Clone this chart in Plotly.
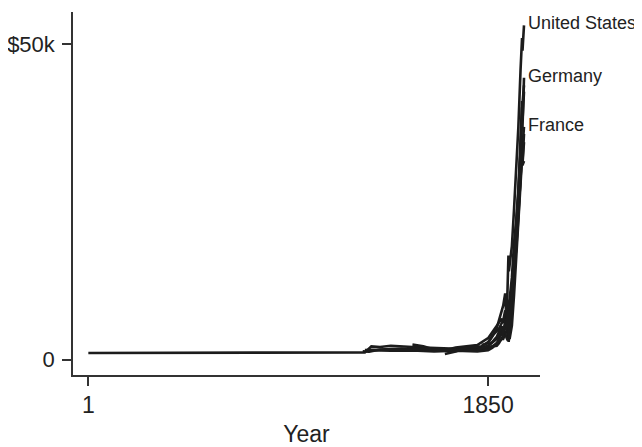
import plotly.graph_objects as go

# ---- data (GDP per capita) ----
us_years = [1650, 1700, 1750, 1800, 1820, 1850, 1870, 1890, 1900, 1913, 1920, 1929, 1933, 1939, 1944, 1946, 1950, 1960, 1970, 1980, 1990, 2000, 2007, 2009, 2016]
us_vals = [900, 1300, 1900, 2000, 2100, 2800, 3700, 5000, 6200, 8100, 8600, 10500, 7600, 10100, 16500, 14000, 15200, 18000, 23900, 29600, 36900, 45900, 51000, 49000, 53000]

de_years = [1500, 1600, 1700, 1800, 1850, 1870, 1890, 1900, 1913, 1919, 1929, 1932, 1939, 1944, 1946, 1950, 1960, 1970, 1980, 1990, 2000, 2007, 2009, 2016]
de_vals = [1700, 1600, 1500, 1600, 2200, 2800, 3600, 4400, 5300, 4000, 5600, 4600, 7200, 7700, 3300, 5300, 11000, 15000, 21000, 26000, 33800, 38000, 36800, 44700]

fr_years = [1280, 1400, 1500, 1600, 1700, 1750, 1800, 1820, 1850, 1870, 1890, 1900, 1913, 1918, 1929, 1939, 1944, 1946, 1950, 1960, 1970, 1980, 1990, 2000, 2007, 2009, 2016]
fr_vals = [1500, 1600, 1500, 1400, 1500, 1600, 1700, 1800, 2200, 2700, 3300, 3900, 4800, 3500, 6100, 5600, 3700, 5200, 7000, 10000, 15300, 20000, 25000, 30800, 34500, 33600, 36900]

uk_years = [1270, 1300, 1350, 1400, 1450, 1500, 1550, 1600, 1650, 1700, 1750, 1800, 1850, 1870, 1890, 1900, 1913, 1920, 1929, 1939, 1944, 1950, 1960, 1970, 1980, 1990, 2000, 2007, 2009, 2016]
uk_vals = [1300, 1250, 1600, 1700, 1750, 1650, 1500, 1700, 1500, 1900, 2100, 2300, 3400, 4400, 5300, 5900, 6500, 5800, 6800, 7700, 9300, 9000, 11500, 14500, 17500, 22600, 28000, 33500, 31500, 35800]

it_years = [1, 1280, 1310, 1350, 1400, 1450, 1500, 1550, 1600, 1650, 1700, 1750, 1800, 1850, 1870, 1890, 1900, 1913, 1920, 1929, 1939, 1945, 1950, 1960, 1970, 1980, 1990, 2000, 2007, 2009, 2016]
it_vals = [1050, 1150, 2100, 2000, 2200, 2050, 2000, 1900, 1850, 1750, 1800, 1700, 1600, 1800, 2100, 2200, 2600, 3400, 3300, 4200, 4700, 2800, 4300, 7500, 12700, 18400, 23500, 29300, 32500, 31000, 34500]

es_years = [1500, 1550, 1600, 1650, 1700, 1750, 1800, 1850, 1870, 1890, 1900, 1913, 1920, 1929, 1936, 1939, 1950, 1960, 1970, 1980, 1990, 2000, 2007, 2009, 2016]
es_vals = [2400, 2100, 1600, 1500, 1550, 1600, 1700, 1900, 2100, 2600, 2800, 3200, 3500, 4200, 3400, 3200, 3400, 5400, 10300, 15800, 20900, 27000, 32000, 30800, 31500]

nl_years = [1820, 1850, 1870, 1890, 1900, 1913, 1920, 1929, 1939, 1944, 1946, 1950, 1960, 1970, 1980, 1990, 2000, 2007, 2009, 2016]
nl_vals = [2300, 2600, 3800, 4600, 4900, 5800, 6200, 7800, 7300, 4100, 6900, 8100, 11200, 16500, 21000, 26500, 35000, 41000, 40500, 43500]

se_years = [1300, 1400, 1500, 1600, 1700, 1750, 1800, 1850, 1870, 1890, 1900, 1913, 1920, 1929, 1939, 1950, 1960, 1970, 1980, 1990, 2000, 2007, 2009, 2016]
se_vals = [1500, 1400, 1450, 1300, 1400, 1350, 1300, 1500, 1900, 2600, 3200, 4200, 4100, 5500, 7000, 9800, 13000, 18500, 22000, 27000, 33000, 40000, 37800, 42500]

countries = ["United Kingdom", "Italy", "Spain", "Netherlands", "Sweden", "France", "Germany", "United States"]
series_years = [uk_years, it_years, es_years, nl_years, se_years, fr_years, de_years, us_years]
series_vals = [uk_vals, it_vals, es_vals, nl_vals, se_vals, fr_vals, de_vals, us_vals]
labelled = ["United States", "Germany", "France"]

x_tick_vals = [1, 1850]
x_tick_text = ["1", "1850"]
y_tick_vals = [0, 50000]
y_tick_text = ["0", "$50k"]

FONT = "Liberation Sans, Arial, Helvetica, sans-serif"
INK = "#1c1c1c"
TXT = "#222222"

fig = go.Figure()
for name, xs, ys in zip(countries, series_years, series_vals):
    fig.add_trace(go.Scatter(x=xs, y=ys, mode="lines", name=name,
                             line=dict(color=INK, width=2.6),
                             showlegend=False, hoverinfo="skip"))

for name, xs, ys in zip(countries, series_years, series_vals):
    if name in labelled:
        fig.add_annotation(x=xs[-1], y=ys[-1], text=name, showarrow=False,
                           xanchor="left", yanchor="middle", xshift=2, yshift=2,
                           font=dict(family=FONT, size=18, color=TXT))

# page body has an 8px default margin, so the figure is sized to the visible area
fig.update_layout(
    template="none",
    width=634, height=439,
    margin=dict(l=65, r=102, t=4, b=72, pad=0),
    paper_bgcolor="white", plot_bgcolor="white",
    font=dict(family=FONT, color=TXT),
    xaxis=dict(range=[-70, 2090], tickvals=x_tick_vals, ticktext=x_tick_text,
               automargin=False,
               showgrid=False, zeroline=False, showline=True, linecolor="#333333",
               linewidth=1.5, ticks="outside", ticklen=9, tickwidth=1.5,
               tickcolor="#333333", tickfont=dict(family=FONT, size=23, color=TXT),
               title=dict(text="Year", font=dict(family=FONT, size=23, color=TXT), standoff=15)),
    yaxis=dict(range=[-2440, 55120], tickvals=y_tick_vals, ticktext=y_tick_text,
               automargin=False,
               showgrid=False, zeroline=False, showline=True, linecolor="#333333",
               linewidth=1.5, ticks="outside", ticklen=9, tickwidth=1.5,
               tickcolor="#333333", tickfont=dict(family=FONT, size=22, color=TXT),
               ticklabelstandoff=3),
)

fig.write_html("out.html")
